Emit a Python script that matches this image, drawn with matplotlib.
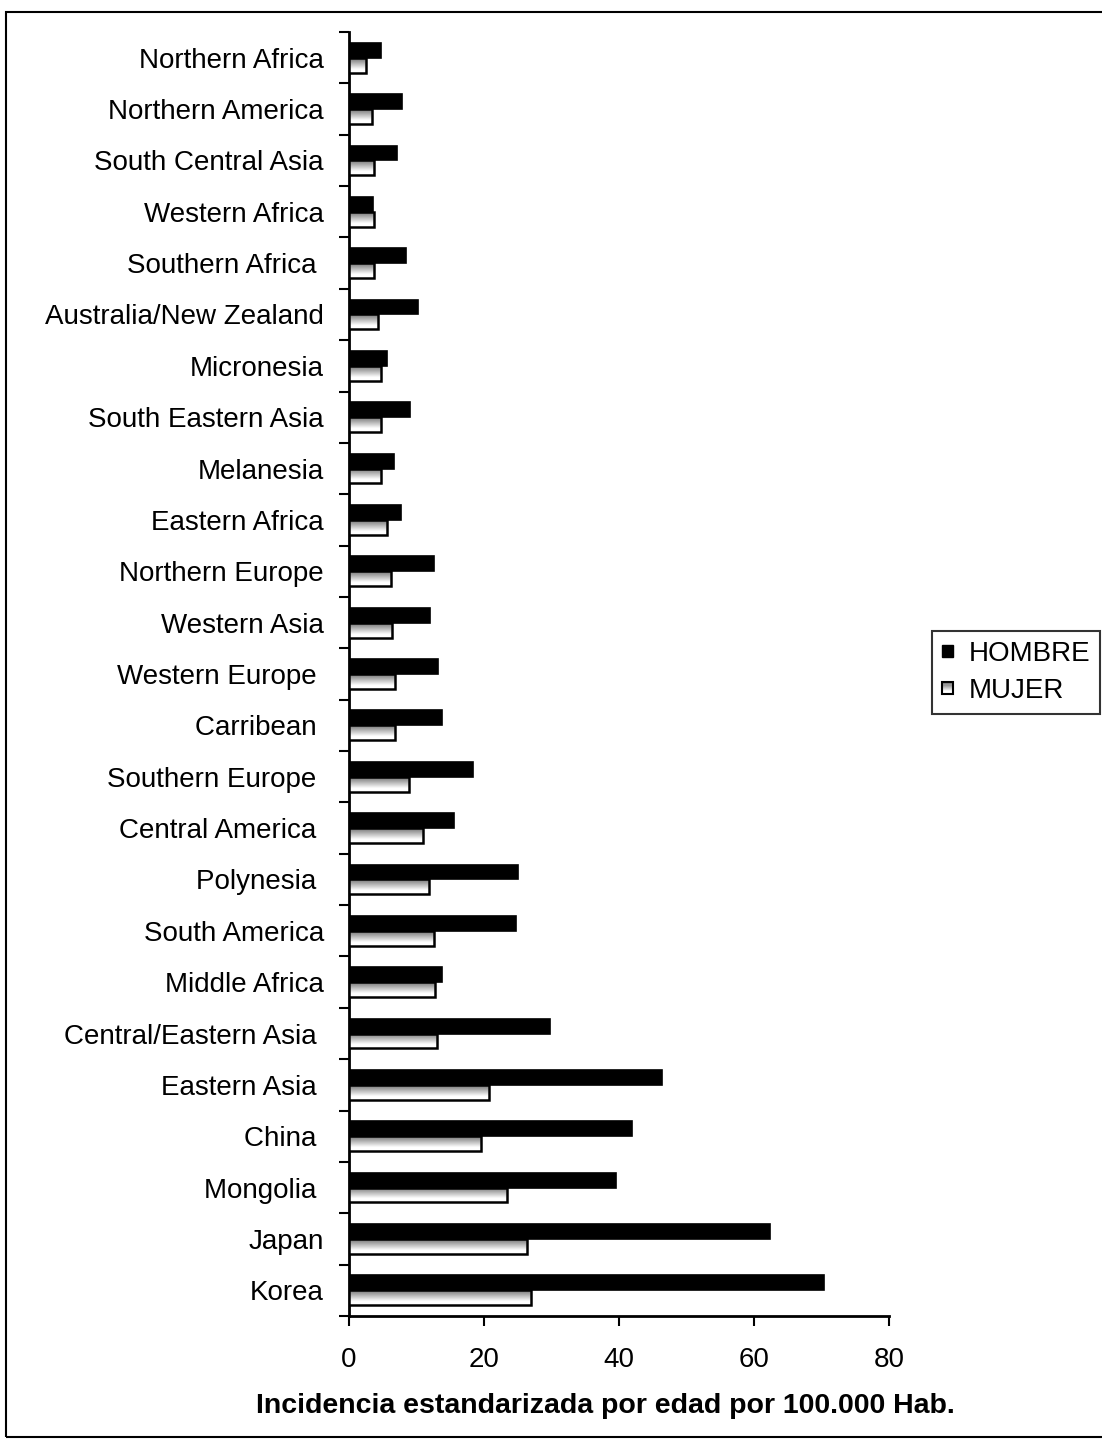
import matplotlib
matplotlib.use("Agg")
import matplotlib.pyplot as plt
import numpy as np
from matplotlib.patches import Rectangle
from matplotlib.legend_handler import HandlerBase

plt.rcParams['font.family'] = ['Liberation Sans', 'DejaVu Sans']

categories = ["Northern Africa", "Northern America", "South Central Asia", "Western Africa",
              "Southern Africa ", "Australia/New Zealand", "Micronesia", "South Eastern Asia",
              "Melanesia", "Eastern Africa", "Northern Europe", "Western Asia",
              "Western Europe ", "Carribean ", "Southern Europe ", "Central America ",
              "Polynesia ", "South America", "Middle Africa", "Central/Eastern Asia ",
              "Eastern Asia ", "China ", "Mongolia ", "Japan", "Korea"]
hombre = [4.7, 7.8, 7.1, 3.6, 8.4, 10.2, 5.7, 9.0, 6.6, 7.7, 12.6, 12.0, 13.2, 13.8,
          18.3, 15.6, 25.0, 24.7, 13.8, 29.8, 46.4, 41.9, 39.5, 62.4, 70.3]
mujer = [2.5, 3.4, 3.7, 3.7, 3.7, 4.3, 4.7, 4.7, 4.7, 5.6, 6.2, 6.4, 6.8, 6.8,
         8.9, 11.0, 11.9, 12.6, 12.8, 13.1, 20.7, 19.5, 23.4, 26.4, 27.0]
xticks = [0, 20, 40, 60, 80]
xlabel = "Incidencia estandarizada por edad por 100.000 Hab."
series_names = ["HOMBRE", "MUJER"]

W, H = 1102, 1448
fig = plt.figure(figsize=(W / 100, H / 100), dpi=100)
ax = fig.add_axes([349 / W, 1 - 1316 / H, (889 - 349) / W, (1316 - 32) / H])

n = len(categories)
y = np.arange(n)
bh = 0.29

grad = np.concatenate([np.linspace(0.45, 1.0, 75), np.ones(25)])
grad_img = np.stack([grad, grad, grad], axis=-1).reshape(100, 1, 3)

ax.barh(y - bh / 2, hombre, height=bh, color='black', edgecolor='black', linewidth=1.2, zorder=3)
mbars = ax.barh(y + bh / 2, mujer, height=bh, color='none', edgecolor='black', linewidth=1.8, zorder=4)
for rect in mbars:
    x0 = rect.get_x()
    x1 = x0 + rect.get_width()
    y0 = rect.get_y()
    y1 = y0 + rect.get_height()
    im = ax.imshow(grad_img, extent=(x0, x1, y1, y0), origin='upper', aspect='auto',
                   interpolation='bilinear', zorder=3.5)
    im.set_clip_path(rect)

ax.set_xlim(0, 80)
ax.set_ylim(n - 0.5, -0.5)

ax.set_yticks(y)
ax.set_yticklabels(categories, fontsize=20)
ax.set_yticks(np.arange(-0.5, n, 1.0), minor=True)
ax.tick_params(axis='y', which='major', length=0, pad=18)
ax.tick_params(axis='y', which='minor', length=7.2, width=1.5, direction='out')
ax.set_xticks(xticks)
ax.set_xticklabels([str(v) for v in xticks], fontsize=20)
ax.tick_params(axis='x', length=7.2, width=1.5, direction='out', pad=15)

for s in ['top', 'right']:
    ax.spines[s].set_visible(False)
for s in ['left', 'bottom']:
    ax.spines[s].set_linewidth(2)

fig.text(605 / W, 1 - 1406 / H, xlabel, ha='center', va='center', fontsize=20.5, fontweight='bold')

# outer chart border
fig.patches.append(Rectangle((6 / W, 1 - 1437 / H), 1.2, (1437 - 12) / H,
                             transform=fig.transFigure, fill=False, edgecolor='black',
                             linewidth=1.5, zorder=0))


class GradHandler(HandlerBase):
    def create_artists(self, legend, orig_handle, xdescent, ydescent, width, height, fontsize, trans):
        s = min(width, height) * 1.0
        x0 = xdescent + (width - s) / 2
        y0 = -ydescent + (height - s) / 2
        arts = []
        k = 10
        for i in range(k):
            g = 0.45 + 0.55 * min(1.0, i / (k * 0.75))
            r = Rectangle((x0, y0 + s - (i + 1) * s / k), s, s / k, facecolor=(g, g, g),
                          edgecolor='none', transform=trans)
            arts.append(r)
        arts.append(Rectangle((x0, y0), s, s, facecolor='none', edgecolor='black',
                              linewidth=1.5, transform=trans))
        return arts


class SolidHandler(HandlerBase):
    def create_artists(self, legend, orig_handle, xdescent, ydescent, width, height, fontsize, trans):
        s = min(width, height) * 1.0
        x0 = xdescent + (width - s) / 2
        y0 = -ydescent + (height - s) / 2
        return [Rectangle((x0, y0), s, s, facecolor='black', edgecolor='black', transform=trans)]


h1 = Rectangle((0, 0), 1, 1)
h2 = Rectangle((0, 0), 1, 1, facecolor='white')
leg = fig.legend([h1, h2], series_names, loc='upper left',
                 bbox_to_anchor=(932 / W, 1 - 631 / H), bbox_transform=fig.transFigure,
                 fontsize=20, frameon=True, fancybox=False, handlelength=0.42, handleheight=0.42,
                 handletextpad=0.55, borderpad=0.35, labelspacing=0.4, borderaxespad=0,
                 handler_map={h1: SolidHandler(), h2: GradHandler()})
leg.get_frame().set_edgecolor('black')
leg.get_frame().set_linewidth(1.5)

fig.savefig("out.png", dpi=100)
